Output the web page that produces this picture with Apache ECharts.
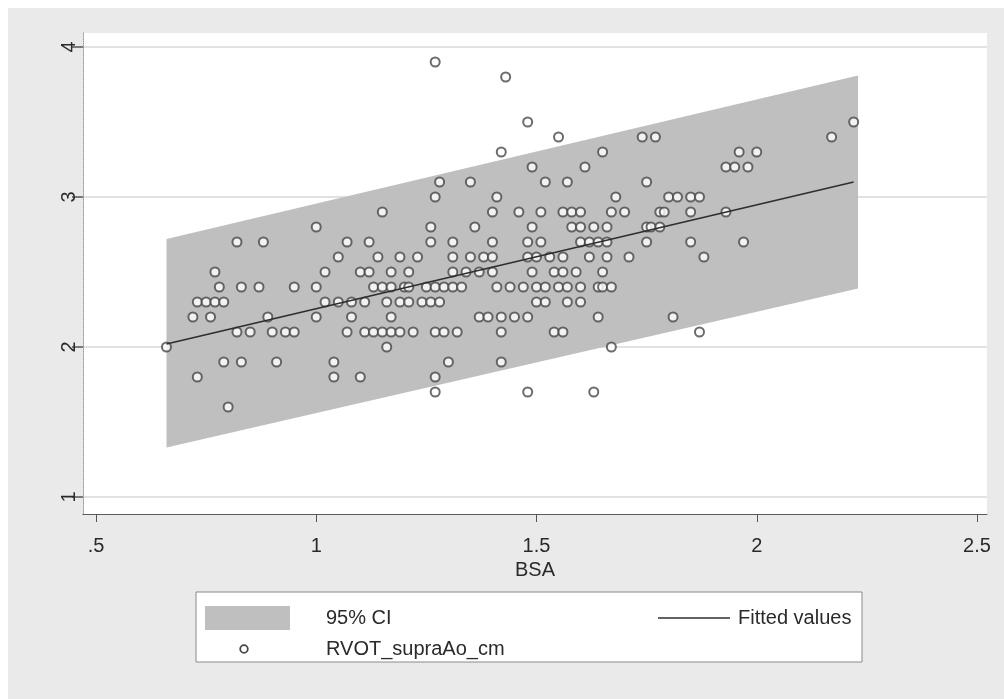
<!DOCTYPE html>
<html>
<head>
<meta charset="utf-8">
<script src="https://cdn.jsdelivr.net/npm/echarts@6/dist/echarts.min.js"></script>
<style>
  html, body { margin: 0; padding: 0; background: #ffffff; }
  #chart { width: 1004px; height: 699px; }
</style>
</head>
<body>
<div id="chart"></div>
<script>
// Axis ticks and their labels
const xTicks = [0.5, 1, 1.5, 2, 2.5];
const xTickLabels = ['.5', '1', '1.5', '2', '2.5'];
const yTicks = [1, 2, 3, 4];
const xName = 'BSA';

// Linear fit (end points) and its 95% interval band
const fitX = [0.66, 2.22];
const fitY = [2.02, 3.10];
const ciX = [0.66, 2.23];
const ciLower = [1.33, 2.39];
const ciUpper = [2.72, 3.81];

// Legend entries
const legendLabels = ['95% CI', 'Fitted values', 'RVOT_supraAo_cm'];

// Observations: [BSA, RVOT_supraAo_cm], one line per RVOT level
const points = [
  [1.27, 3.9],
  [1.43, 3.8],
  [1.48, 3.5], [2.22, 3.5],
  [1.55, 3.4], [1.74, 3.4], [1.77, 3.4], [2.17, 3.4],
  [1.42, 3.3], [1.65, 3.3], [1.96, 3.3], [2.00, 3.3],
  [1.49, 3.2], [1.61, 3.2], [1.93, 3.2], [1.95, 3.2], [1.98, 3.2],
  [1.28, 3.1], [1.35, 3.1], [1.52, 3.1], [1.57, 3.1], [1.75, 3.1],
  [1.27, 3.0], [1.41, 3.0], [1.68, 3.0], [1.80, 3.0], [1.82, 3.0], [1.85, 3.0], [1.87, 3.0],
  [1.15, 2.9], [1.40, 2.9], [1.46, 2.9], [1.51, 2.9], [1.56, 2.9], [1.58, 2.9], [1.60, 2.9],
  [1.67, 2.9], [1.70, 2.9], [1.78, 2.9], [1.79, 2.9], [1.85, 2.9], [1.93, 2.9],
  [1.00, 2.8], [1.26, 2.8], [1.36, 2.8], [1.49, 2.8], [1.58, 2.8], [1.60, 2.8], [1.63, 2.8],
  [1.66, 2.8], [1.75, 2.8], [1.76, 2.8], [1.78, 2.8],
  [0.82, 2.7], [0.88, 2.7], [1.07, 2.7], [1.12, 2.7], [1.26, 2.7], [1.31, 2.7], [1.40, 2.7],
  [1.48, 2.7], [1.51, 2.7], [1.60, 2.7], [1.62, 2.7], [1.64, 2.7], [1.66, 2.7], [1.75, 2.7],
  [1.85, 2.7], [1.97, 2.7],
  [1.05, 2.6], [1.14, 2.6], [1.19, 2.6], [1.23, 2.6], [1.31, 2.6], [1.35, 2.6], [1.38, 2.6],
  [1.40, 2.6], [1.48, 2.6], [1.50, 2.6], [1.53, 2.6], [1.56, 2.6], [1.62, 2.6], [1.66, 2.6],
  [1.71, 2.6], [1.88, 2.6],
  [0.77, 2.5], [1.02, 2.5], [1.10, 2.5], [1.12, 2.5], [1.17, 2.5], [1.21, 2.5], [1.31, 2.5],
  [1.34, 2.5], [1.37, 2.5], [1.40, 2.5], [1.49, 2.5], [1.54, 2.5], [1.56, 2.5], [1.59, 2.5],
  [1.65, 2.5],
  [0.78, 2.4], [0.83, 2.4], [0.87, 2.4], [0.95, 2.4], [1.00, 2.4], [1.13, 2.4], [1.15, 2.4],
  [1.17, 2.4], [1.20, 2.4], [1.21, 2.4], [1.25, 2.4], [1.27, 2.4], [1.29, 2.4], [1.31, 2.4],
  [1.33, 2.4], [1.41, 2.4], [1.44, 2.4], [1.47, 2.4], [1.50, 2.4], [1.52, 2.4], [1.55, 2.4],
  [1.57, 2.4], [1.60, 2.4], [1.64, 2.4], [1.65, 2.4], [1.67, 2.4],
  [0.73, 2.3], [0.75, 2.3], [0.77, 2.3], [0.79, 2.3], [1.02, 2.3], [1.05, 2.3], [1.08, 2.3],
  [1.11, 2.3], [1.16, 2.3], [1.19, 2.3], [1.21, 2.3], [1.24, 2.3], [1.26, 2.3], [1.28, 2.3],
  [1.50, 2.3], [1.52, 2.3], [1.57, 2.3], [1.60, 2.3],
  [0.72, 2.2], [0.76, 2.2], [0.89, 2.2], [1.00, 2.2], [1.08, 2.2], [1.17, 2.2], [1.37, 2.2],
  [1.39, 2.2], [1.42, 2.2], [1.45, 2.2], [1.48, 2.2], [1.64, 2.2], [1.81, 2.2],
  [0.82, 2.1], [0.85, 2.1], [0.90, 2.1], [0.93, 2.1], [0.95, 2.1], [1.07, 2.1], [1.11, 2.1],
  [1.13, 2.1], [1.15, 2.1], [1.17, 2.1], [1.19, 2.1], [1.22, 2.1], [1.27, 2.1], [1.29, 2.1],
  [1.32, 2.1], [1.42, 2.1], [1.54, 2.1], [1.56, 2.1], [1.87, 2.1],
  [0.66, 2.0], [1.16, 2.0], [1.67, 2.0],
  [0.79, 1.9], [0.83, 1.9], [0.91, 1.9], [1.04, 1.9], [1.30, 1.9], [1.42, 1.9],
  [0.73, 1.8], [1.04, 1.8], [1.10, 1.8], [1.27, 1.8],
  [1.27, 1.7], [1.48, 1.7], [1.63, 1.7],
  [0.80, 1.6]
];

const FONT = '"Liberation Sans", Arial, sans-serif';
const TEXT = '#2a2a2a';
const BAND = '#bfbfbf';
const MARK = '#474747';
const LINE = '#2e2e2e';

// Plot frame in pixels: left/right/top/bottom edges and where ticks sit
const frame = { left: 83, right: 987, top: 33, bottom: 514 };
const xPx = { lo: 96, hi: 977 };   // pixels of 0.5 and 2.5
const yPx = { lo: 497, hi: 47 };   // pixels of 1 and 4
const xScale = (xTicks[4] - xTicks[0]) / (xPx.hi - xPx.lo);
const yScale = (yTicks[3] - yTicks[0]) / (yPx.lo - yPx.hi);

const chart = echarts.init(document.getElementById('chart'), null, { renderer: 'canvas' });

const option = {
  animation: false,
  backgroundColor: '#eaeaea',
  grid: {
    left: frame.left,
    right: 1004 - frame.right,
    top: frame.top,
    bottom: 699 - frame.bottom,
    show: true,
    backgroundColor: '#ffffff',
    borderWidth: 0
  },
  xAxis: {
    type: 'value',
    min: xTicks[0] - (xPx.lo - frame.left) * xScale,
    max: xTicks[4] + (frame.right - xPx.hi) * xScale,
    axisLine: { show: true, onZero: false, lineStyle: { color: '#5a5a5a', width: 1 } },
    axisTick: { show: true, customValues: xTicks, length: 8, lineStyle: { color: '#555' } },
    axisLabel: {
      customValues: xTicks,
      formatter: v => xTickLabels[xTicks.indexOf(v)],
      fontSize: 20, color: TEXT, fontFamily: FONT, margin: 22
    },
    splitLine: { show: false },
    name: xName,
    nameLocation: 'middle',
    nameGap: 44,
    nameTextStyle: { fontSize: 20, color: TEXT, fontFamily: FONT }
  },
  yAxis: {
    type: 'value',
    min: yTicks[0] - (frame.bottom - yPx.lo) * yScale,
    max: yTicks[3] + (yPx.hi - frame.top) * yScale,
    axisLine: { show: true, onZero: false, lineStyle: { color: '#999', type: 'dotted', width: 1 } },
    axisTick: { show: true, customValues: yTicks, length: 11, lineStyle: { color: '#555', width: 1.5 } },
    axisLabel: {
      customValues: yTicks,
      rotate: 90,
      fontSize: 20, color: TEXT, fontFamily: FONT, margin: 4
    },
    splitLine: { show: true, lineStyle: { color: '#e2e2e2', width: 2 } }
  },
  series: [
    {
      name: legendLabels[0],
      type: 'custom',
      z: 1,
      data: ciX.map((x, i) => [x, ciLower[i], ciUpper[i]]),
      encode: { x: 0, y: [1, 2] },
      renderItem: (params, api) => {
        const i = params.dataIndex;
        if (i >= ciX.length - 1) return null;
        const pts = [
          api.coord([ciX[i], ciUpper[i]]),
          api.coord([ciX[i + 1], ciUpper[i + 1]]),
          api.coord([ciX[i + 1], ciLower[i + 1]]),
          api.coord([ciX[i], ciLower[i]])
        ];
        return { type: 'polygon', shape: { points: pts }, style: { fill: BAND } };
      }
    },
    {
      name: legendLabels[2],
      type: 'scatter',
      z: 2,
      symbol: 'emptyCircle',
      symbolSize: 9,
      itemStyle: { color: MARK, borderColor: MARK, borderWidth: 1.8 },
      data: points
    },
    {
      name: legendLabels[1],
      type: 'line',
      z: 3,
      showSymbol: false,
      lineStyle: { color: LINE, width: 1.6 },
      data: fitX.map((x, i) => [x, fitY[i]])
    }
  ],
  graphic: [
    // white margin round the graph area
    { type: 'rect', shape: { x: 0, y: 0, width: 1004, height: 8 }, style: { fill: '#ffffff' }, silent: true },
    { type: 'rect', shape: { x: 0, y: 0, width: 8, height: 699 }, style: { fill: '#ffffff' }, silent: true },
    // legend box
    { type: 'rect', shape: { x: 196, y: 592, width: 666, height: 70 },
      style: { fill: '#ffffff', stroke: '#8a8a8a', lineWidth: 1 } },
    { type: 'rect', shape: { x: 205, y: 606, width: 85, height: 24 }, style: { fill: BAND } },
    { type: 'text', x: 326, y: 618,
      style: { text: legendLabels[0], fill: TEXT, font: '20px ' + FONT, verticalAlign: 'middle' } },
    { type: 'line', shape: { x1: 658, y1: 618, x2: 730, y2: 618 }, style: { stroke: LINE, lineWidth: 1.5 } },
    { type: 'text', x: 738, y: 618,
      style: { text: legendLabels[1], fill: TEXT, font: '20px ' + FONT, verticalAlign: 'middle' } },
    { type: 'circle', shape: { cx: 244, cy: 649, r: 3.8 },
      style: { fill: 'none', stroke: MARK, lineWidth: 1.8 } },
    { type: 'text', x: 326, y: 649,
      style: { text: legendLabels[2], fill: TEXT, font: '20px ' + FONT, verticalAlign: 'middle' } }
  ]
};

chart.setOption(option);
</script>
</body>
</html>
